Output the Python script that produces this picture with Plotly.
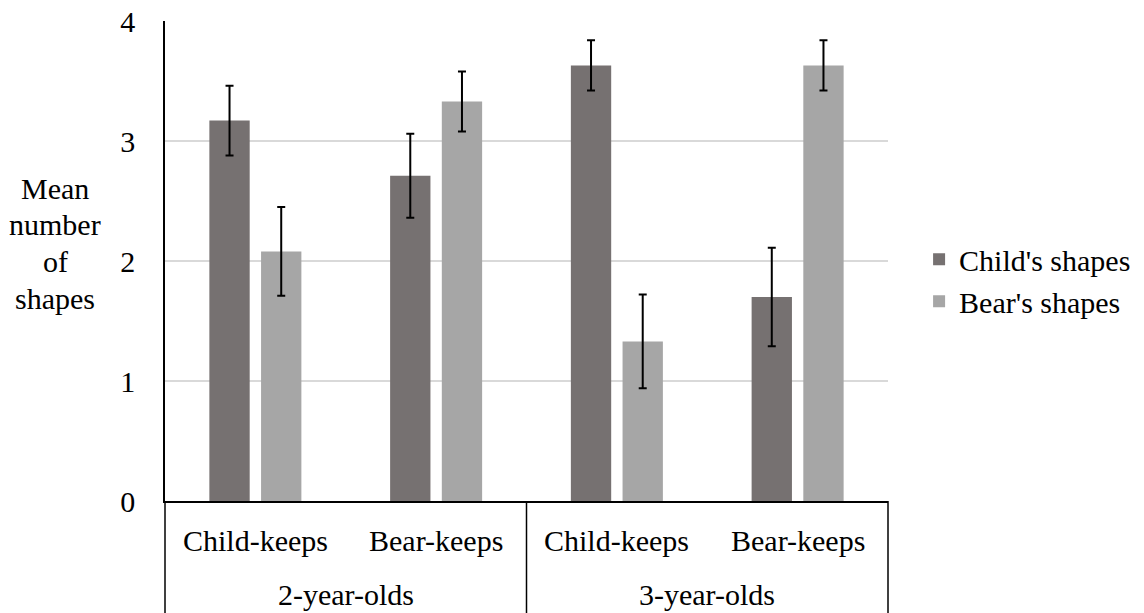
import plotly.graph_objects as go

# Grouping levels for the multi-category x axis
age_groups = ["2-year-olds", "2-year-olds", "3-year-olds", "3-year-olds"]
conditions = ["Child-keeps", "Bear-keeps", "Child-keeps", "Bear-keeps"]
age_labels = ["2-year-olds", "3-year-olds"]

# Mean number of shapes and error-bar half-widths
child_means = [3.17, 2.71, 3.63, 1.70]
child_err = [0.29, 0.35, 0.21, 0.41]
bear_means = [2.08, 3.33, 1.33, 3.63]
bear_err = [0.37, 0.25, 0.39, 0.21]

series_names = ["Child's shapes", "Bear's shapes"]
series_colors = ["#767171", "#A6A6A6"]

y_title_lines = ["Mean", "number", "of", "shapes"]

FONT = "Liberation Serif"
FSIZE = 30

fig = go.Figure()
for name, means, errs, color in zip(series_names,
                                    [child_means, bear_means],
                                    [child_err, bear_err],
                                    series_colors):
    fig.add_trace(go.Bar(
        x=[age_groups, conditions],
        y=means,
        name=name,
        marker=dict(color=color, line=dict(width=0)),
        error_y=dict(type="data", array=errs, visible=True,
                     color="black", thickness=2, width=4),
    ))

fig.update_layout(
    width=1144, height=613,
    margin=dict(l=165, r=256, t=21, b=112, autoexpand=False),
    paper_bgcolor="white", plot_bgcolor="white",
    font=dict(family=FONT, size=FSIZE, color="black"),
    barmode="group",
    bargap=0.428,
    bargroupgap=0.22,
    showlegend=True,
    legend=dict(x=1.043, y=0.46, xanchor="left", yanchor="middle",
                font=dict(family=FONT, size=FSIZE, color="black"),
                bgcolor="rgba(0,0,0,0)"),
)

# Category axis: labels and table rules are drawn below as annotations/shapes
fig.update_xaxes(
    type="multicategory",
    showline=True, linecolor="black", linewidth=1.5,
    showdividers=False, showticklabels=False,
    showgrid=False, ticks="",
)

fig.update_yaxes(
    range=[0, 4], dtick=1,
    showgrid=True, gridcolor="#D9D9D9", gridwidth=1.5,
    showline=True, linecolor="black", linewidth=1.5,
    zeroline=False, ticks="", ticklabelstandoff=22,
    tickfont=dict(family=FONT, size=FSIZE, color="black"),
)

# Lower-level labels (conditions), one per category slot
n_cat = len(conditions)
for i, lab in enumerate(conditions):
    fig.add_annotation(
        text=lab, xref="paper", yref="paper",
        x=(i + 0.5) / n_cat, y=-0.083,
        xanchor="center", yanchor="middle", showarrow=False,
        font=dict(family=FONT, size=FSIZE, color="black"),
    )

# Upper-level labels (age groups), one per group of categories
n_grp = len(age_labels)
for j, lab in enumerate(age_labels):
    fig.add_annotation(
        text=lab, xref="paper", yref="paper",
        x=(j + 0.5) / n_grp, y=-0.195,
        xanchor="center", yanchor="middle", showarrow=False,
        font=dict(family=FONT, size=FSIZE, color="black"),
    )

# Vertical table rules at the group boundaries, running below the axis
for j in range(n_grp + 1):
    fig.add_shape(
        type="line", xref="paper", yref="paper",
        x0=j / n_grp, x1=j / n_grp, y0=0, y1=-0.3,
        line=dict(color="black", width=1.5),
    )

# Horizontal y-axis caption, one line per annotation
for k, line in enumerate(y_title_lines):
    fig.add_annotation(
        text=line, xref="paper", yref="paper",
        x=-0.152, y=0.652 - k * 0.077,
        xanchor="center", yanchor="middle", showarrow=False,
        font=dict(family=FONT, size=FSIZE, color="black"),
    )

fig.write_html("out.html")
